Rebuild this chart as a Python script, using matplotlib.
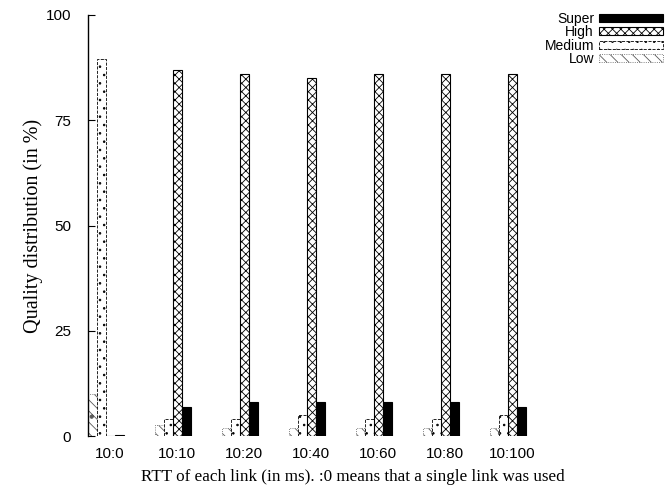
import numpy as np
import matplotlib
matplotlib.use("Agg")
import matplotlib.pyplot as plt

groups = ["10:0", "10:10", "10:20", "10:40", "10:60", "10:80", "10:100"]
low = [10, 2.5, 2, 2, 2, 2, 2]
medium = [89.5, 4, 4, 5, 4, 4, 5]
high = [0, 87, 86, 85, 86, 86, 86]
super_ = [0.3, 7, 8, 8, 8, 8, 7]

plt.rcParams["hatch.linewidth"] = 0.6

fig = plt.figure(figsize=(6.71, 4.96), dpi=100)
ax = fig.add_axes([88 / 671, 60 / 496, 530 / 671, 421 / 496])

x = np.arange(len(groups))
w = 0.134

# gnuplot-like patterned bars: Low, Medium, High, Super
ax.bar(x - 1.5 * w, low, w, facecolor="white", edgecolor="0.35",
       hatch="\\\\\\.", linestyle=":", linewidth=0.6, label="Low")
ax.bar(x - 0.5 * w, medium, w, facecolor="white", edgecolor="black",
       hatch="..", linestyle="--", linewidth=0.6, label="Medium")
ax.bar(x + 0.5 * w, high, w, facecolor="white", edgecolor="black",
       hatch="xxxx", linewidth=0.8, label="High")
ax.bar(x + 1.5 * w, super_, w, facecolor="black", edgecolor="black",
       linewidth=0.8, label="Super")

ax.set_xlim(-2 * w, 7.64)
ax.set_ylim(0, 100)
ax.set_yticks([0, 25, 50, 75, 100])
ax.set_xticks(x + 0.06)
ax.set_xticklabels(groups)
ax.tick_params(axis="x", length=0, pad=8, labelsize=11)
ax.tick_params(axis="y", direction="in", length=5, width=0.8, pad=12, labelsize=11)
for lab in ax.get_xticklabels() + ax.get_yticklabels():
    lab.set_family("Liberation Sans")

for side in ["top", "right", "bottom"]:
    ax.spines[side].set_visible(False)
ax.spines["left"].set_linewidth(1.0)

ax.set_ylabel("Quality distribution (in %)", family="Liberation Serif",
              fontsize=14.5, labelpad=2)
ax.set_xlabel("RTT of each link (in ms). :0 means that a single link was used",
              family="Liberation Serif", fontsize=12.3, labelpad=6)

handles, labels = ax.get_legend_handles_labels()
fig.legend(handles[::-1], labels[::-1], loc="upper right",
           bbox_to_anchor=(0.998, 0.99), frameon=False, markerfirst=False,
           prop={"family": "Liberation Sans", "size": 10},
           handlelength=4.6, handleheight=0.5, labelspacing=-0.05,
           handletextpad=0.35, borderaxespad=0.1)

fig.savefig("out.png", dpi=100)
